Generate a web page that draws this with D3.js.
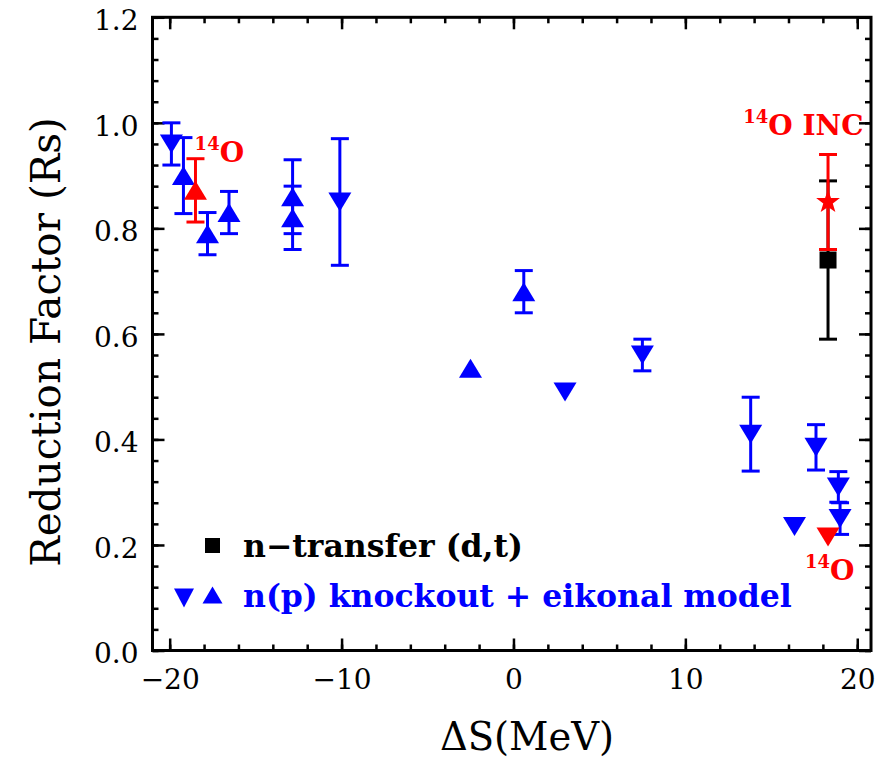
<!DOCTYPE html>
<html>
<head>
<meta charset="utf-8">
<script src="https://cdn.jsdelivr.net/npm/d3@7"></script>
<style>
body { margin: 0; background: #fff; }
text { font-family: "DejaVu Serif", serif; }
</style>
</head>
<body>
<div id="chart"></div>
<script>
// n(p) knockout + eikonal model, downward triangles
var downX   = [-19.9, -10.1, 3.0, 7.5, 13.8, 17.6, 18.9, 19.0, 16.35];
var downY   = [0.96, 0.85, 0.49, 0.56, 0.41, 0.385, 0.31, 0.25, 0.235];
var downErr = [0.04, 0.12, 0, 0.03, 0.07, 0.043, 0.029, 0.03, 0];
// upward triangles
var upX   = [-19.2, -17.8, -16.55, -12.85, -12.85, -2.5, 0.6];
var upY   = [0.90, 0.79, 0.83, 0.86, 0.82, 0.535, 0.68];
var upErr = [0.072, 0.04, 0.04, 0.07, 0.06, 0, 0.04];
// 14O points (red)
var o14UpX = [-18.5], o14UpY = [0.872], o14UpErr = [0.06];
var o14DownX = [18.3], o14DownY = [0.215];
var incX = [18.3], incY = [0.85], incErr = [0.09];
// n-transfer (d,t)
var dtX = [18.3], dtY = [0.74], dtErr = [0.15];

var xTicks = [-20, -10, 0, 10, 20];
var xTickLabels = ["\u221220", "\u221210", "0", "10", "20"];
var yTicks = [0, 0.2, 0.4, 0.6, 0.8, 1.0, 1.2];
var yTickLabels = ["0.0", "0.2", "0.4", "0.6", "0.8", "1.0", "1.2"];
var legendLabels = ["n\u2212transfer (d,t)", "n(p) knockout + eikonal model"];

var W = 883, H = 764,
    pL = 152.5, pR = 871, pT = 17.3, pB = 650.5,
    blue = "#0000ff", red = "#ff0000";

var x = d3.scaleLinear().domain([-21, 20.8]).range([pL, pR]);
var y = d3.scaleLinear().domain([0, 1.2]).range([pB, pT]);

var svg = d3.select("#chart").append("svg")
    .attr("width", W)
    .attr("height", H);

// axes, ticks pointing inward on all four sides
function styleAxis(g) {
  g.attr("font-family", "DejaVu Serif").attr("font-size", 28);
  g.select(".domain").remove();
  g.selectAll("line").attr("stroke", "#000").attr("stroke-width", 2.5);
  g.selectAll("text").attr("fill", "#000");
}
var xMinor = d3.range(-20, 21, 2), yMinor = d3.range(0, 1.21, 0.04);

svg.append("g").attr("transform", "translate(0," + pB + ")")
  .call(d3.axisBottom(x).tickValues(xMinor).tickSize(-6).tickFormat("")).call(styleAxis);
svg.append("g").attr("transform", "translate(0," + pB + ")")
  .call(d3.axisBottom(x).tickValues(xTicks).tickSize(-12).tickPadding(19)
    .tickFormat(function(d, i) { return xTickLabels[i]; })).call(styleAxis);
svg.append("g").attr("transform", "translate(0," + pT + ")")
  .call(d3.axisTop(x).tickValues(xMinor).tickSize(-6).tickFormat("")).call(styleAxis);
svg.append("g").attr("transform", "translate(0," + pT + ")")
  .call(d3.axisTop(x).tickValues(xTicks).tickSize(-12).tickFormat("")).call(styleAxis);

svg.append("g").attr("transform", "translate(" + pL + ",0)")
  .call(d3.axisLeft(y).tickValues(yMinor).tickSize(-6).tickFormat("")).call(styleAxis);
var yAx = svg.append("g").attr("transform", "translate(" + pL + ",0)")
  .call(d3.axisLeft(y).tickValues(yTicks).tickSize(-12).tickPadding(14)
    .tickFormat(function(d, i) { return yTickLabels[i]; })).call(styleAxis);
yAx.selectAll("text").attr("dy", "0.44em");
svg.append("g").attr("transform", "translate(" + pR + ",0)")
  .call(d3.axisRight(y).tickValues(yMinor).tickSize(-6).tickFormat("")).call(styleAxis);
svg.append("g").attr("transform", "translate(" + pR + ",0)")
  .call(d3.axisRight(y).tickValues(yTicks).tickSize(-12).tickFormat("")).call(styleAxis);

svg.append("rect")
  .attr("x", pL).attr("y", pT)
  .attr("width", pR - pL).attr("height", pB - pT)
  .attr("fill", "none").attr("stroke", "#000").attr("stroke-width", 3);

// axis titles
svg.append("text")
  .attr("x", 527).attr("y", 750)
  .attr("text-anchor", "middle").attr("font-size", 38.5)
  .text("\u0394S(MeV)");
svg.append("text")
  .attr("transform", "translate(60,342) rotate(-90)")
  .attr("text-anchor", "middle").attr("font-size", 40.5)
  .text("Reduction Factor (Rs)");

// markers
function tri(dir, w, h) {
  var s = dir == "up" ? 1 : -1;
  return "M0," + (-s * h / 2) + "L" + (w / 2) + "," + (s * h / 2) + "L" + (-w / 2) + "," + (s * h / 2) + "Z";
}
function star(R, r) {
  var p = [];
  for (var i = 0; i < 10; i++) {
    var a = -Math.PI / 2 + i * Math.PI / 5, rr = i % 2 ? r : R;
    p.push([rr * Math.cos(a), rr * Math.sin(a)]);
  }
  return "M" + p.join("L") + "Z";
}

function errBars(xs, ys, es, color) {
  var g = svg.append("g").attr("stroke", color).attr("stroke-width", 3).attr("fill", "none");
  xs.forEach(function(xv, i) {
    if (!es[i]) return;
    var cx = x(xv), y0 = y(ys[i] - es[i]), y1 = y(ys[i] + es[i]);
    g.append("line").attr("x1", cx).attr("x2", cx).attr("y1", y0).attr("y2", y1);
    g.append("line").attr("x1", cx - 9).attr("x2", cx + 9).attr("y1", y0).attr("y2", y0);
    g.append("line").attr("x1", cx - 9).attr("x2", cx + 9).attr("y1", y1).attr("y2", y1);
  });
}
function markers(xs, ys, d, color) {
  svg.append("g").selectAll("path")
    .data(xs)
    .enter().append("path")
    .attr("transform", function(v, i) { return "translate(" + x(v) + "," + y(ys[i]) + ")"; })
    .attr("d", d)
    .attr("fill", color);
}

errBars(downX, downY, downErr, blue);
errBars(upX, upY, upErr, blue);
markers(downX, downY, tri("down", 23, 19), blue);
markers(upX, upY, tri("up", 23, 19), blue);

errBars(o14UpX, o14UpY, o14UpErr, red);
markers(o14UpX, o14UpY, tri("up", 23, 19), red);
markers(o14DownX, o14DownY, tri("down", 23, 19), red);

errBars(dtX, dtY, dtErr, "#000");
markers(dtX, dtY, "M-8.5,-8.5h17v17h-17Z", "#000");
errBars(incX, incY, incErr, red);
markers(incX, incY, star(12.5, 5), red);

// red 14O annotations
function o14Label(xv, yv, extra) {
  var t = svg.append("text")
    .attr("x", x(xv)).attr("y", y(yv))
    .attr("fill", red).attr("font-weight", "bold").attr("font-size", 28);
  t.append("tspan").attr("font-size", 18).attr("dy", -12).text("14");
  t.append("tspan").attr("dy", 12).text("O" + (extra || ""));
}
o14Label(-18.55, 0.925);
o14Label(13.37, 0.977, " INC");
o14Label(16.96, 0.134);

// legend
svg.append("path").attr("transform", "translate(212.5,545.5)")
  .attr("d", "M-7.5,-7.5h15v15h-15Z").attr("fill", "#000");
svg.append("path").attr("transform", "translate(184,598)")
  .attr("d", tri("down", 20, 19)).attr("fill", blue);
svg.append("path").attr("transform", "translate(212.5,595)")
  .attr("d", tri("up", 20, 17)).attr("fill", blue);

svg.selectAll(".legend")
  .data(legendLabels)
  .enter().append("text")
  .attr("class", "legend")
  .attr("x", 243)
  .attr("y", function(d, i) { return 557 + i * 50; })
  .attr("font-size", 31.5)
  .attr("font-weight", "bold")
  .attr("fill", function(d, i) { return i ? blue : "#000"; })
  .text(function(d) { return d; });
</script>
</body>
</html>
